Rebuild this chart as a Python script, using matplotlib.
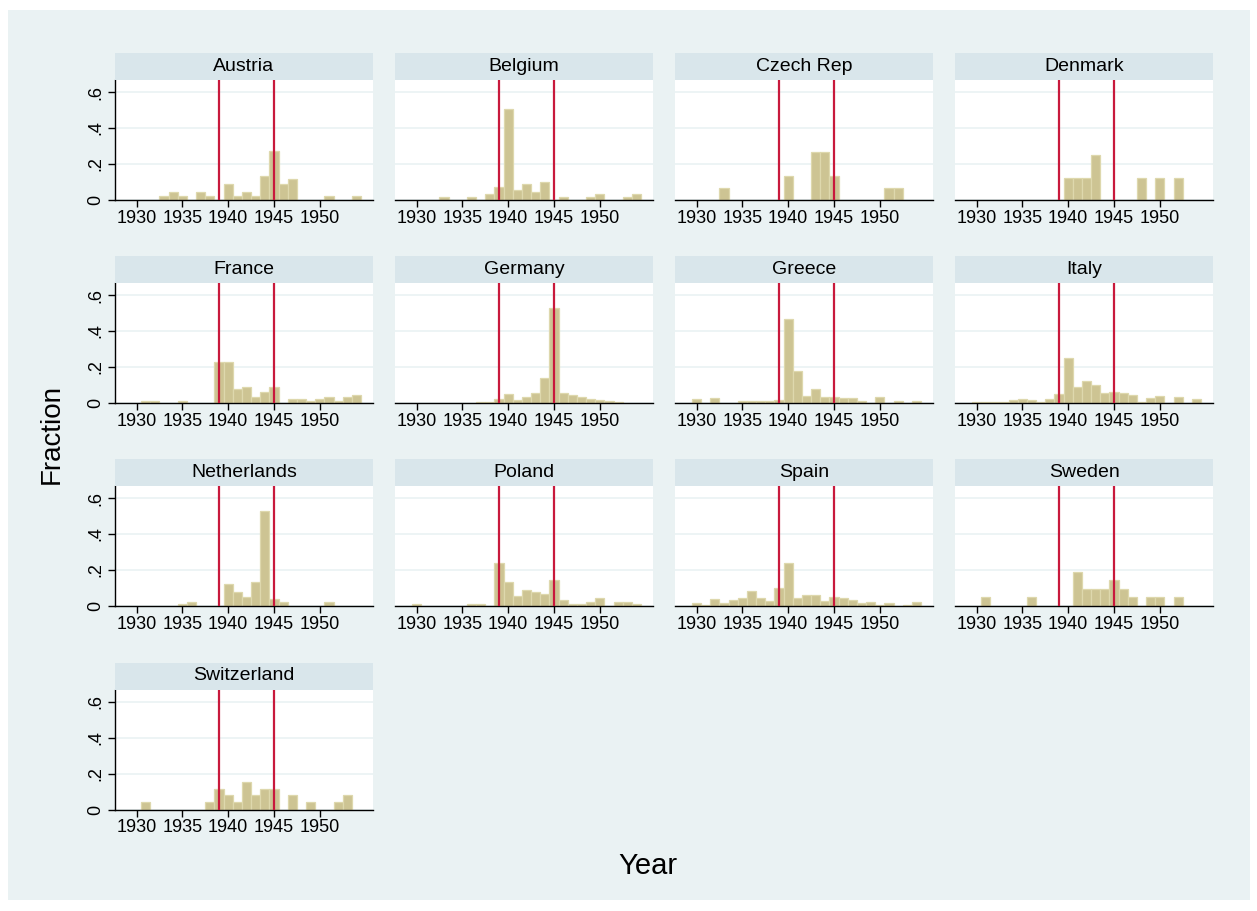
import matplotlib
matplotlib.use("Agg")
import matplotlib.pyplot as plt
from matplotlib.patches import Rectangle

plt.rcParams["font.family"] = ["Liberation Sans", "DejaVu Sans"]

# Fraction of observations per year (bins 1930 ... 1954)
years = list(range(1930, 1955))

austria = [0, 0, 0, .023, .045, .023, 0, .045, .023, 0, .091, .023, .045, .023, .136, .273, .091, .114, 0, 0, 0, .023, 0, 0, .023]
belgium = [0, 0, 0, .015, 0, 0, .015, 0, .032, .071, .505, .058, .087, .043, .10, 0, .015, 0, 0, .015, .032, 0, 0, .015, .032]
czech = [0, 0, 0, .067, 0, 0, 0, 0, 0, 0, .133, 0, 0, .267, .267, .133, 0, 0, 0, 0, 0, .067, .067, 0, 0]
denmark = [0, 0, 0, 0, 0, 0, 0, 0, 0, 0, .125, .125, .125, .25, 0, 0, 0, 0, .125, 0, .125, 0, .125, 0, 0]
france = [0, .013, .013, 0, 0, .013, 0, 0, 0, .228, .228, .08, .09, .031, .061, .09, 0, .022, .022, .013, .022, .031, .013, .031, .043]
germany = [0, 0, 0, 0, 0, 0, 0, .005, .007, .02, .05, .017, .033, .054, .14, .53, .054, .046, .033, .022, .018, .009, .007, 0, 0]
greece = [.02, 0, .028, 0, 0, .011, .011, .011, .011, .018, .465, .18, .04, .076, .033, .033, .026, .026, .011, 0, .035, 0, .011, 0, .011]
italy = [.006, .006, .006, .007, .015, .022, .015, .006, .022, .05, .25, .089, .122, .098, .054, .061, .056, .044, .006, .028, .039, 0, .033, 0, .022]
netherlands = [0, 0, 0, 0, 0, .011, .022, 0, 0, 0, .122, .076, .048, .133, .526, .039, .022, 0, 0, 0, 0, .022, 0, 0, 0]
poland = [.011, 0, 0, 0, 0, 0, .011, .011, 0, .24, .131, .054, .089, .078, .067, .144, .033, .011, .011, .022, .044, 0, .022, .022, .011]
spain = [.017, .007, .039, .015, .031, .044, .081, .044, .026, .1, .239, .044, .061, .061, .026, .05, .044, .031, .015, .02, .007, .015, 0, .007, .02]
sweden = [0, .048, 0, 0, 0, 0, .048, 0, 0, 0, 0, .19, .095, .095, .095, .143, .095, .048, 0, .048, .048, 0, .048, 0, 0]
switzerland = [0, .04, 0, 0, 0, 0, 0, 0, .04, .115, .08, .04, .155, .08, .115, .115, 0, .08, 0, .04, 0, 0, .04, .08, 0]

countries = ["Austria", "Belgium", "Czech Rep", "Denmark", "France", "Germany", "Greece",
             "Italy", "Netherlands", "Poland", "Spain", "Sweden", "Switzerland"]
fractions = [austria, belgium, czech, denmark, france, germany, greece,
             italy, netherlands, poland, spain, sweden, switzerland]

war_years = [1939, 1945]
xticks = [1930, 1935, 1940, 1945, 1950]
yticks = [0, .2, .4, .6]
yticklabels = ["0", ".2", ".4", ".6"]

W, H = 1257, 911
fig = plt.figure(figsize=(W / 100, H / 100), dpi=100, facecolor="white")

# graph region background
fig.patches.append(Rectangle((8 / W, 1 - 900 / H), (1250 - 8) / W, (900 - 10) / H,
                             transform=fig.transFigure, facecolor="#eaf2f3",
                             edgecolor="none", zorder=-10))


def px_axes(x0, y0, x1, y1):
    return fig.add_axes([x0 / W, 1 - y1 / H, (x1 - x0) / W, (y1 - y0) / H])


col_left = [115, 395, 675, 955]
row_bottom = [200, 403, 606, 809.5]
panel_w = 258
panel_h = 120
strip_h = 27

bar_color = "#cdc493"
bar_edge = "#ded8ad"
red = "#c8193c"

for i, (name, frac) in enumerate(zip(countries, fractions)):
    r, c = divmod(i, 4)
    x0 = col_left[c]
    yb = row_bottom[r]
    ax = px_axes(x0, yb - panel_h, x0 + panel_w, yb)
    ax.set_facecolor("white")

    xs = [y for y, f in zip(years, frac) if f > 0]
    hs = [f for f in frac if f > 0]
    ax.bar(xs, hs, width=1.0, color=bar_color, edgecolor=bar_edge, linewidth=0.9, zorder=2)
    for wy in war_years:
        ax.axvline(wy, color=red, lw=1.6, zorder=3)

    ax.set_xlim(1927.65, 1955.8)
    ax.set_ylim(0, 0.667)
    ax.set_yticks(yticks)
    ax.yaxis.grid(True, color="#eaf2f3", lw=1.2, zorder=0)
    ax.set_axisbelow(True)
    ax.set_xticks(xticks)
    ax.tick_params(axis="x", length=5, width=1, labelsize=13, pad=2, color="black")

    for s in ["top", "right"]:
        ax.spines[s].set_visible(False)
    ax.spines["bottom"].set_linewidth(1)
    if c == 0:
        ax.spines["left"].set_linewidth(1)
        ax.set_yticklabels(yticklabels, rotation=90, va="center")
        ax.tick_params(axis="y", length=5, width=1, labelsize=13, pad=3)
    else:
        ax.spines["left"].set_visible(False)
        ax.tick_params(axis="y", length=0, labelleft=False)

    # title strip
    sx = px_axes(x0, yb - panel_h - strip_h, x0 + panel_w, yb - panel_h)
    sx.set_facecolor("#d9e6eb")
    sx.set_xticks([])
    sx.set_yticks([])
    for s in sx.spines.values():
        s.set_visible(False)
    sx.text(0.5, 0.5, name, ha="center", va="center", fontsize=14,
            transform=sx.transAxes)

fig.text(52 / W, 1 - 434 / H, "Fraction", rotation=90, ha="center", va="center", fontsize=20)
fig.text(648 / W, 1 - 866 / H, "Year", ha="center", va="center", fontsize=21)

fig.savefig("out.png", dpi=100, facecolor="white")
